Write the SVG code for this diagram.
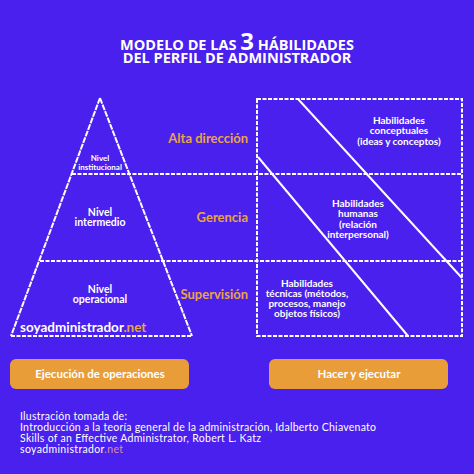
<svg xmlns="http://www.w3.org/2000/svg" width="474" height="474" viewBox="0 0 474 474">
<style>
.bg{fill:#4A20EE}
.dash{stroke:#fff;stroke-width:2;stroke-dasharray:4 1.5;fill:none}
.edge{stroke:#fff;stroke-width:2;stroke-dasharray:6 1;fill:none}
.solid{stroke:#fff;stroke-width:2;fill:none}
.t{font-family:Lato,"Noto Sans",sans-serif;font-weight:bold;fill:#fff;text-anchor:middle}
.ttl{font-family:"Open Sans","Noto Sans",sans-serif;font-weight:bold;fill:#fff;text-anchor:middle;font-size:14.5px}
.lvl{font-family:Lato,"Noto Sans",sans-serif;font-weight:bold;fill:#E9A445;font-size:13px;text-anchor:end}
.btn{fill:#E89D38}
.foot{font-family:Lato,"Noto Sans",sans-serif;fill:#fff;font-size:10.5px}
.or{fill:#E9A445}
.pk{fill:#D8909A}
</style>
<rect class="bg" x="0" y="0" width="474" height="474"/>
<g id="title">
<text class="ttl" x="237" y="50">MODELO DE LAS <tspan font-size="24">3</tspan> HÁBILIDADES</text>
<text class="ttl" x="237" y="63">DEL PERFIL DE ADMINISTRADOR</text>
</g>
<g id="connectors">
<path class="edge" d="M100,98 L11,336 M100,98 L192,336"/>
<line class="dash" x1="11" y1="336" x2="192" y2="336"/>
<line class="dash" x1="72" y1="174" x2="462" y2="174"/>
<line class="dash" x1="40" y1="261" x2="462" y2="261"/>
<rect class="dash" x="257" y="99" width="205" height="237"/>
<line class="solid" x1="298" y1="99" x2="462" y2="278"/>
<line class="solid" x1="258" y1="157" x2="408" y2="336"/>
</g>
<g id="nivel-institucional">
<text class="t" x="100" y="161" font-size="8">Nivel</text>
<text class="t" x="100" y="170" font-size="8">institucional</text>
</g>
<g id="nivel-intermedio">
<text class="t" x="100" y="216" font-size="10.5">Nivel</text>
<text class="t" x="100" y="226" font-size="10.5">intermedio</text>
</g>
<g id="nivel-operacional">
<text class="t" x="100" y="293" font-size="10.5">Nivel</text>
<text class="t" x="100" y="303" font-size="10.5">operacional</text>
</g>
<g id="logo">
<text class="t" x="20" y="332" font-size="13.5" style="text-anchor:start">soyadministrador<tspan class="or">.net</tspan></text>
</g>
<g id="alta-direccion"><text class="lvl" x="248" y="143">Alta dirección</text></g>
<g id="gerencia"><text class="lvl" x="248" y="222">Gerencia</text></g>
<g id="supervision"><text class="lvl" x="248" y="299">Supervisión</text></g>
<g id="hab-conceptuales">
<text class="t" x="399" y="124" font-size="10">Habilidades</text>
<text class="t" x="399" y="134" font-size="10">conceptuales</text>
<text class="t" x="399" y="145" font-size="10">(ideas y conceptos)</text>
</g>
<g id="hab-humanas">
<text class="t" x="358" y="207" font-size="10">Habilidades</text>
<text class="t" x="358" y="217" font-size="10">humanas</text>
<text class="t" x="358" y="228" font-size="10">(relación</text>
<text class="t" x="358" y="238" font-size="10">interpersonal)</text>
</g>
<g id="hab-tecnicas">
<text class="t" x="307" y="287" font-size="10">Habilidades</text>
<text class="t" x="307" y="297" font-size="10">técnicas (métodos,</text>
<text class="t" x="307" y="307" font-size="10">procesos, manejo</text>
<text class="t" x="307" y="317" font-size="10">objetos físicos)</text>
</g>
<g id="btn-ejecucion">
<rect class="btn" x="10" y="359" width="179" height="30" rx="6"/>
<text class="t" x="100" y="378" font-size="11.5">Ejecución de operaciones</text>
</g>
<g id="btn-hacer">
<rect class="btn" x="269" y="359" width="179" height="30" rx="6"/>
<text class="t" x="359" y="378" font-size="11.5">Hacer y ejecutar</text>
</g>
<g id="footer">
<text class="foot" x="20" y="420" textLength="107">Ilustración tomada de:</text>
<text class="foot" x="20" y="431" textLength="356">Introducción a la teoría general de la administración, Idalberto Chiavenato</text>
<text class="foot" x="20" y="442" textLength="241">Skills of an Effective Administrator, Robert L. Katz</text>
<text class="foot" x="20" y="453" textLength="103">soyadministrador<tspan class="pk">.net</tspan></text>
</g>
</svg>
